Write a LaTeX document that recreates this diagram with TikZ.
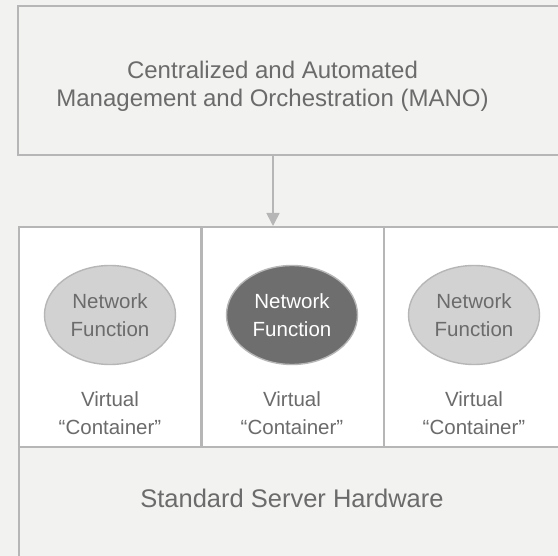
\documentclass[tikz,border=0pt]{standalone}
\usepackage{fontspec}
\setmainfont{Liberation Sans}
\usetikzlibrary{shapes.geometric,arrows.meta}
\definecolor{bg}{HTML}{F2F2F0}
\definecolor{edge}{HTML}{B6B6B6}
\definecolor{txt}{HTML}{6B6B6B}
\definecolor{lightnf}{HTML}{D2D2D2}
\definecolor{darknf}{HTML}{6E6E6E}
\tikzset{
  boxline/.style={draw=edge, line width=1.6pt},
  cont/.style={boxline, fill=white, rectangle, minimum width=182pt, minimum height=220pt, inner sep=0pt},
  nf/.style={ellipse, draw=edge, line width=1.4pt, minimum width=131pt, minimum height=99pt, inner sep=0pt, align=center, font=\fontsize{20.5}{28}\selectfont},
  nflight/.style={nf, fill=lightnf, text=txt},
  nfdark/.style={nf, fill=darknf, text=white},
  vc/.style={align=center, text=txt, font=\fontsize{20.5}{28}\selectfont},
  lbl/.style={align=center, text=txt},
}
\begin{document}
\begin{tikzpicture}[x=1pt,y=-1pt]
\useasboundingbox[fill=bg] (0,0) rectangle (558,556);
\clip (0,0) rectangle (558,556);
% top box
\node[boxline, fill=bg, rectangle, minimum width=560pt, minimum height=149pt, inner sep=0pt, anchor=north west] (manobox) at (17,5) {};
\node[lbl, font=\fontsize{24}{28}\selectfont] (mano) at (272.5,86) {Centralized and Automated\\Management and Orchestration (MANO)};
% hardware box
\node[boxline, fill=bg, rectangle, minimum width=560pt, minimum height=360pt, inner sep=0pt, anchor=north west] (hw) at (18,226) {};
\node[lbl, font=\fontsize{25.5}{30}\selectfont] (hwtext) at (292,498) {Standard Server Hardware};
% containers
\node[cont, anchor=north west] (c1) at (18,226) {};
\node[cont, anchor=north west] (c2) at (201,226) {};
\node[cont, anchor=north west] (c3) at (383,226) {};
% network functions
\node[nflight] (nf1) at (110,315) {Network\\Function};
\node[nfdark] (nf2) at (292,315) {Network\\Function};
\node[nflight] (nf3) at (474,315) {Network\\Function};
% labels
\node[vc] (v1) at (110,413) {Virtual\\“Container”};
\node[vc] (v2) at (292,413) {Virtual\\“Container”};
\node[vc] (v3) at (474,413) {Virtual\\“Container”};
% arrow
\coordinate (astart) at (273,154);
\coordinate (aend) at (273,226);
\draw[draw=edge, line width=1.6pt, -{Triangle[width=13pt,length=13pt]}] (astart |- manobox.south) -- (aend |- c2.north);
\end{tikzpicture}
\end{document}
